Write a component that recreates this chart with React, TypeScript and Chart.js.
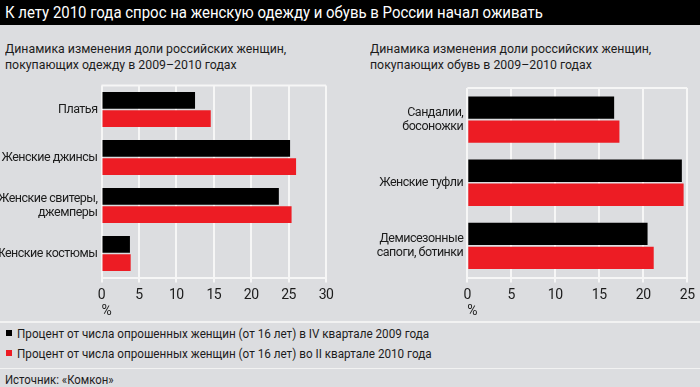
import React, { useEffect, useRef } from "react";
import { Chart, registerables } from "chart.js";

Chart.register(...registerables);

const TITLE = "К лету 2010 года спрос на женскую одежду и обувь в России начал оживать";
const LEFT_SUBTITLE = ["Динамика изменения доли российских женщин,", "покупающих одежду  в 2009–2010 годах"];
const RIGHT_SUBTITLE = ["Динамика изменения доли российских женщин,", "покупающих обувь в 2009–2010 годах"];
const SERIES_NAMES = [
  "Процент от числа опрошенных женщин (от 16 лет) в IV квартале 2009 года",
  "Процент от числа опрошенных женщин (от 16 лет) во II квартале 2010 года",
];
const SOURCE = "Источник: «Комкон»";
const AXIS_UNIT = "%";

const clothesCategories = [["Платья"], ["Женские джинсы"], ["Женские свитеры,", "джемперы"], ["Женские костюмы"]];
const clothes2009 = [12.5, 25.2, 23.7, 3.8];
const clothes2010 = [14.6, 26.0, 25.4, 3.9];
const clothesMax = 30;

const shoesCategories = [["Сандалии,", "босоножки"], ["Женские туфли"], ["Демисезонные", "сапоги, ботинки"]];
const shoes2009 = [16.7, 24.4, 20.5];
const shoes2010 = [17.3, 24.6, 21.2];
const shoesMax = 25;

const tickStep = 5;

const FONT = "Roboto, 'Liberation Sans', sans-serif";
const BG = "#dcdde0";
const BLACK = "#000000";
const RED = "#ed1c24";
const GRID = "#f6f6f6";
const TEXT = "#1c1c1c";

const topLinePlugin = {
  id: "topLine",
  beforeDraw(chart: any) {
    try {
      chart.ctx.letterSpacing = "-0.5px";
    } catch (e) {}
  },
  beforeDatasetsDraw(chart: any) {
    const { ctx, chartArea } = chart;
    ctx.save();
    ctx.strokeStyle = GRID;
    ctx.lineWidth = 2;
    ctx.beginPath();
    ctx.moveTo(chartArea.left, chartArea.top);
    ctx.lineTo(chartArea.right, chartArea.top);
    ctx.stroke();
    ctx.restore();
  },
};

function BarPanel(props: {
  categories: string[][];
  a: number[];
  b: number[];
  max: number;
  yWidth: number;
  padRight: number;
  left: number;
  width: number;
}) {
  const ref = useRef<HTMLCanvasElement | null>(null);
  useEffect(() => {
    if (!ref.current) return;
    const chart = new Chart(ref.current, {
      type: "bar",
      data: {
        labels: props.categories,
        datasets: [
          { label: SERIES_NAMES[0], data: props.a, backgroundColor: BLACK, categoryPercentage: 0.76, barPercentage: 0.93 },
          { label: SERIES_NAMES[1], data: props.b, backgroundColor: RED, categoryPercentage: 0.76, barPercentage: 0.93 },
        ],
      },
      options: {
        indexAxis: "y",
        animation: false,
        responsive: false,
        maintainAspectRatio: false,
        layout: { padding: { top: 15.5, bottom: 1.5, left: 0, right: props.padRight } },
        plugins: { legend: { display: false }, tooltip: { enabled: false } },
        scales: {
          x: {
            min: 0,
            max: props.max,
            ticks: { stepSize: tickStep, color: TEXT, font: { family: FONT, size: 14 }, padding: 5 },
            grid: { color: GRID, lineWidth: 2, tickLength: 5, drawTicks: true },
            border: { display: true, color: GRID, width: 2 },
            title: {
              display: true,
              text: AXIS_UNIT,
              align: "start",
              color: TEXT,
              font: { family: FONT, size: 14, lineHeight: 1 },
              padding: { top: 0, bottom: 0 },
            },
            afterFit: (s: any) => {
              s.height = 41;
            },
          },
          y: {
            ticks: { color: TEXT, font: { family: FONT, size: 12.5, lineHeight: 1.12 }, padding: 4 },
            grid: { display: false, drawTicks: false },
            border: { display: false },
            afterFit: (s: any) => {
              s.width = props.yWidth;
            },
          },
        },
      },
      plugins: [topLinePlugin],
    });
    return () => chart.destroy();
  }, []);
  return (
    <canvas
      ref={ref}
      width={props.width}
      height={250}
      style={{ position: "absolute", left: props.left, top: 70, width: props.width, height: 250 }}
    />
  );
}

export default function App() {
  const textBase: React.CSSProperties = {
    position: "absolute",
    fontFamily: FONT,
    color: TEXT,
    whiteSpace: "nowrap",
    transformOrigin: "left top",
  };
  return (
    <div style={{ position: "absolute", left: 0, top: 0, width: 700, height: 387, background: BG, overflow: "hidden" }}>
      <div style={{ position: "absolute", left: 0, top: 0, width: 700, height: 25, background: "#000" }} />
      <div style={{ ...textBase, left: 5, top: 2, fontSize: 17, lineHeight: "20px", color: "#fff", transform: "scaleX(0.88)" }}>
        {TITLE}
      </div>
      <div style={{ ...textBase, left: 5, top: 40, fontSize: 13.5, lineHeight: "16px", transform: "scaleX(0.912)" }}>
        {LEFT_SUBTITLE[0]}
        <br />
        {LEFT_SUBTITLE[1]}
      </div>
      <div style={{ ...textBase, left: 370, top: 40, fontSize: 13.5, lineHeight: "16px", transform: "scaleX(0.912)" }}>
        {RIGHT_SUBTITLE[0]}
        <br />
        {RIGHT_SUBTITLE[1]}
      </div>
      <BarPanel categories={clothesCategories} a={clothes2009} b={clothes2010} max={clothesMax} yWidth={101.5} padRight={19} left={0} width={345} />
      <BarPanel categories={shoesCategories} a={shoes2009} b={shoes2010} max={shoesMax} yWidth={117.3} padRight={8.3} left={350} width={350} />
      <div style={{ position: "absolute", left: 0, top: 321, width: 700, height: 1.5, background: "#f2f2f2" }} />
      <div style={{ position: "absolute", left: 6, top: 330, width: 6, height: 6, background: BLACK }} />
      <div style={{ ...textBase, left: 17, top: 326, fontSize: 12.5, lineHeight: "15px", transform: "scaleX(0.935)" }}>
        {SERIES_NAMES[0]}
      </div>
      <div style={{ position: "absolute", left: 6, top: 350, width: 6, height: 6, background: RED }} />
      <div style={{ ...textBase, left: 17, top: 346, fontSize: 12.5, lineHeight: "15px", transform: "scaleX(0.935)" }}>
        {SERIES_NAMES[1]}
      </div>
      <div style={{ position: "absolute", left: 0, top: 367.5, width: 700, height: 1.5, background: "#f2f2f2" }} />
      <div style={{ ...textBase, left: 5, top: 372, fontSize: 12.5, lineHeight: "15px", transform: "scaleX(0.91)" }}>
        {SOURCE}
      </div>
    </div>
  );
}
